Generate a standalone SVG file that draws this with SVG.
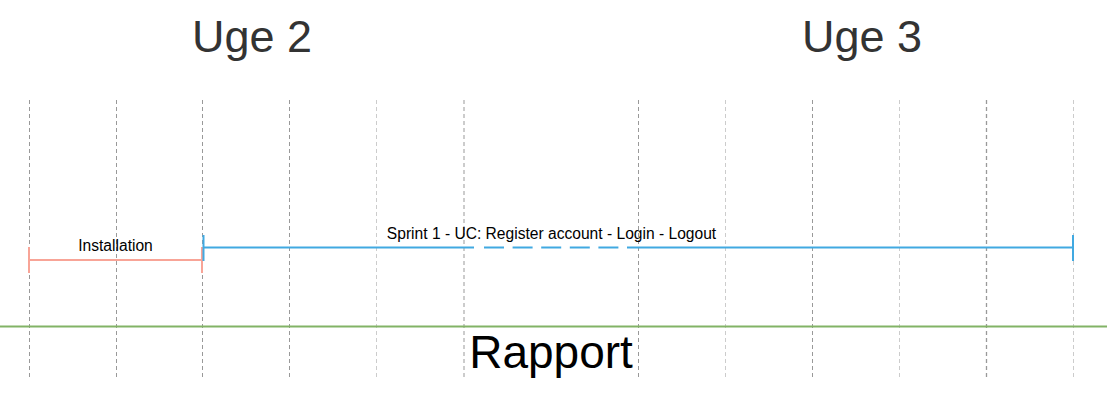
<svg xmlns="http://www.w3.org/2000/svg" width="1107" height="405" viewBox="0 0 1107 405">
<style>
.grid{stroke-dasharray:4 3;fill:none}
.dk{stroke:#999999;stroke-width:1}
.lt{stroke:#cccccc;stroke-width:1}
.title{font-family:"Liberation Sans",Arial,sans-serif;font-size:45px;fill:#333333;text-anchor:middle}
.lbl{font-family:"Liberation Sans",Arial,sans-serif;font-size:15.6px;fill:#000000;text-anchor:middle}
.red{stroke:#f8a497;stroke-width:2;fill:none}
.blue{stroke:#41a9e1;stroke-width:2;fill:none}
</style>
<rect width="1107" height="405" fill="#ffffff"/>
<g id="grid">
<line class="grid dk" x1="29.5" y1="100" x2="29.5" y2="380"/>
<line class="grid dk" x1="116.5" y1="100" x2="116.5" y2="380"/>
<line class="grid dk" x1="202.5" y1="100" x2="202.5" y2="380"/>
<line class="grid dk" x1="289.5" y1="100" x2="289.5" y2="380"/>
<line class="grid lt" x1="376.5" y1="100" x2="376.5" y2="380"/>
<line class="grid lt" x1="464" y1="100" x2="464" y2="380" style="stroke-width:2"/>
<line class="grid dk" x1="638.5" y1="100" x2="638.5" y2="380"/>
<line class="grid lt" x1="725.5" y1="100" x2="725.5" y2="380"/>
<line class="grid dk" x1="812.5" y1="100" x2="812.5" y2="380"/>
<line class="grid lt" x1="899.5" y1="100" x2="899.5" y2="380"/>
<line class="grid dk" x1="986.5" y1="100" x2="986.5" y2="380" style="stroke-width:1.3"/>
<line class="grid lt" x1="1073.5" y1="100" x2="1073.5" y2="380"/>
</g>
<g id="uge2"><text class="title" x="252" y="52">Uge 2</text></g>
<g id="uge3"><text class="title" x="862" y="52">Uge 3</text></g>
<g id="rapport">
<line x1="0" y1="326.5" x2="1107" y2="326.5" stroke="#82b366" stroke-width="2"/>
<text x="551" y="368" font-family="Liberation Sans, Arial, sans-serif" font-size="46" fill="#000000" text-anchor="middle">Rapport</text>
</g>
<g id="installation">
<line class="red" x1="29" y1="260" x2="202" y2="260"/>
<line class="red" x1="29" y1="247" x2="29" y2="273"/>
<line class="red" x1="202" y1="247" x2="202" y2="273"/>
<text class="lbl" x="115.5" y="250.5">Installation</text>
</g>
<g id="sprint1">
<line class="blue" x1="203.5" y1="247.5" x2="474" y2="247.5"/>
<line class="blue" x1="484" y1="247.5" x2="627" y2="247.5" style="stroke-dasharray:20 8.6"/>
<line class="blue" x1="627" y1="247.5" x2="1073" y2="247.5"/>
<line class="blue" x1="203.5" y1="235" x2="203.5" y2="261"/>
<line class="blue" x1="1073" y1="235" x2="1073" y2="261"/>
<text class="lbl" x="551.5" y="238.5">Sprint 1 - UC: Register account - Login - Logout</text>
</g>
</svg>
